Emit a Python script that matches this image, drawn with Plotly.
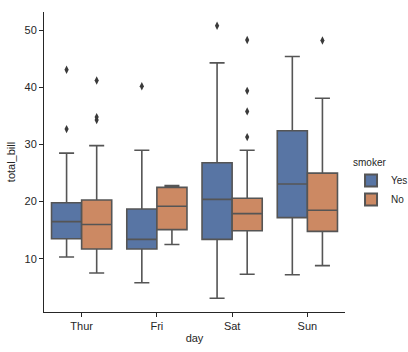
import plotly.graph_objects as go

days = ["Thur", "Fri", "Sat", "Sun"]

# smoker = Yes
yes_q1 = [13.5, 11.7, 13.4, 17.2]
yes_median = [16.5, 13.4, 20.4, 23.1]
yes_q3 = [19.8, 18.7, 26.8, 32.4]
yes_low = [10.3, 5.8, 3.1, 7.2]
yes_high = [28.5, 29.0, 44.3, 45.4]
yes_out_day = ["Thur", "Thur", "Fri", "Sat"]
yes_out_val = [32.7, 43.1, 40.2, 50.8]

# smoker = No
no_q1 = [11.7, 15.1, 14.9, 14.8]
no_median = [16.0, 19.2, 17.9, 18.5]
no_q3 = [20.3, 22.5, 20.6, 25.0]
no_low = [7.5, 12.5, 7.3, 8.8]
no_high = [29.8, 22.8, 29.0, 38.1]
no_out_day = ["Thur", "Thur", "Thur", "Sat", "Sat", "Sat", "Sat", "Sun"]
no_out_val = [34.3, 34.8, 41.2, 31.3, 35.8, 39.4, 48.3, 48.2]

yticks = [10, 20, 30, 40, 50]

line_col = "#555555"
font = dict(family="Liberation Sans, Arial, sans-serif", size=11, color="#262626")

fig = go.Figure()
for name, q1, med, q3, lo, hi, fill in [
    ("Yes", yes_q1, yes_median, yes_q3, yes_low, yes_high, "#5875a4"),
    ("No", no_q1, no_median, no_q3, no_low, no_high, "#cc8963"),
]:
    fig.add_trace(go.Box(
        name=name, x=days, q1=q1, median=med, q3=q3,
        lowerfence=lo, upperfence=hi,
        fillcolor=fill, line=dict(color=line_col, width=1.6),
        whiskerwidth=0.5, offsetgroup=name, alignmentgroup="a",
        boxpoints=False, legendgroup=name,
    ))

for name, xd, yv in [("Yes", yes_out_day, yes_out_val), ("No", no_out_day, no_out_val)]:
    fig.add_trace(go.Scatter(
        x=xd, y=yv, mode="markers", offsetgroup=name, alignmentgroup="a",
        marker=dict(symbol="diamond-tall", size=6, color="#3a3a3a"),
        showlegend=False, legendgroup=name,
    ))

fig.update_layout(
    width=408, height=352,
    margin=dict(l=44, r=63, t=12, b=40, autoexpand=False),
    paper_bgcolor="white", plot_bgcolor="white",
    boxmode="group", boxgap=0.2, boxgroupgap=0,
    scattermode="group", scattergap=0.2,
    font=font,
    showlegend=True,
    legend=dict(
        title=dict(text="smoker", side="top", font=dict(size=10)),
        x=1.02, xanchor="left", y=0.53, yanchor="top",
        font=dict(size=10), tracegroupgap=0, itemsizing="constant",
        bgcolor="rgba(0,0,0,0)",
    ),
    xaxis=dict(
        type="category", categoryorder="array", categoryarray=days,
        range=[-0.5, 3.5], showline=True, linecolor="#262626", linewidth=1,
        ticks="outside", ticklen=4, tickcolor="#262626", showgrid=False, zeroline=False,
        title=dict(text="day", font=dict(size=11), standoff=3), automargin=False,
    ),
    yaxis=dict(
        range=[0.68, 53.2], tickvals=yticks, showline=True, linecolor="#262626", linewidth=1,
        ticks="outside", ticklen=4, tickcolor="#262626", showgrid=False, zeroline=False,
        title=dict(text="total_bill", font=dict(size=11), standoff=6), automargin=False,
    ),
)

fig.write_html("out.html")
